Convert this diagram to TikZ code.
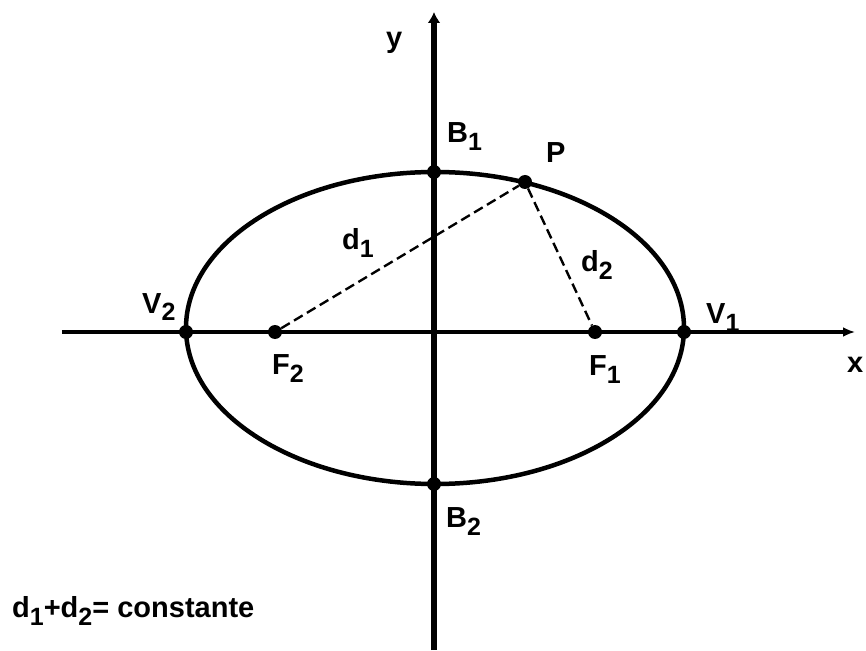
\documentclass[tikz,border=0pt]{standalone}
\usepackage{fontspec}
\setmainfont{Liberation Sans}
\usetikzlibrary{arrows.meta}
\tikzset{
  axisline/.style={draw=black,line width=3.5pt,-{Latex[length=12pt,width=10pt]}},
  dot/.style={circle,fill=black,inner sep=0pt,minimum size=14pt},
  dist/.style={draw=black,line width=2.4pt,dash pattern=on 10pt off 5pt},
  lbl/.style={font=\bfseries\fontsize{29}{29}\selectfont,inner sep=0pt,anchor=base west}
}
\newcommand{\lsub}[1]{\raisebox{-8pt}{\fontsize{25}{25}\selectfont#1}}

\begin{document}
\begin{tikzpicture}[x=1pt,y=1pt]
  \useasboundingbox (-434,-318) rectangle (432,332);
  % axes
  \coordinate (xs) at (-372,0);
  \coordinate (xe) at (421,0);
  \coordinate (ys) at (0,-318);
  \coordinate (ye) at (0,320);
  \draw[axisline] (xs) -- (xe);
  \draw[axisline,line width=5.5pt,-{Latex[length=11pt,width=13pt]}] (ys) -- (ye);
  % ellipse
  \draw[line width=4.5pt] (1,4) ellipse [x radius=249, y radius=156];
  % points
  \node[dot] (v1) at (250,0) {};
  \node[dot] (v2) at (-248,0) {};
  \node[dot] (f1) at (161,0) {};
  \node[dot] (f2) at (-159,0) {};
  \node[dot] (b1) at (0,160) {};
  \node[dot] (b2) at (0,-152) {};
  \node[dot] (p) at (91,150) {};
  \draw[dist] (f2) -- (p);
  \draw[dist] (p) -- (f1);
  % labels
  \node[lbl] (ly) at (-48,284) {y};
  \node[lbl] (lx) at (413,-40) {x};
  \node[lbl] (lb1) at (13,189) {B\lsub{1}};
  \node[lbl] (lb2) at (12,-195) {B\lsub{2}};
  \node[lbl] (lp) at (112,169) {P};
  \node[lbl] (ld1) at (-92,82) {d\lsub{1}};
  \node[lbl] (ld2) at (147,60) {d\lsub{2}};
  \node[lbl] (lv2) at (-292,19) {V\lsub{2}};
  \node[lbl] (lv1) at (272,9) {V\lsub{1}};
  \node[lbl] (lf2) at (-162,-42) {F\lsub{2}};
  \node[lbl] (lf1) at (155,-43) {F\lsub{1}};
  \node[lbl] (lsum) at (-422,-285) {d\lsub{1}+d\lsub{2}= constante};
\end{tikzpicture}
\end{document}
